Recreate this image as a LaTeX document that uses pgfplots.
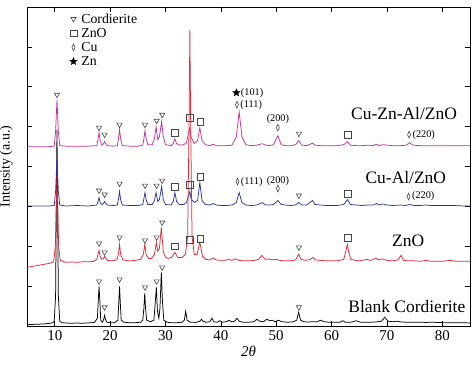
\documentclass[border=0pt]{standalone}
\usepackage{pgfplots}
\pgfplotsset{compat=1.18}
\usepackage{fontspec}
\setmainfont{Liberation Serif}
\definecolor{cmag}{RGB}{192,50,160}
\definecolor{cblue}{RGB}{44,56,150}
\definecolor{cred}{RGB}{226,40,56}
\definecolor{cmark}{RGB}{70,70,70}
\pgfdeclareplotmark{fstar}{%
 \pgfpathmoveto{\pgfpointpolar{90}{\pgfplotmarksize}}%
 \pgfpathlineto{\pgfpointpolar{126}{0.42\pgfplotmarksize}}%
 \pgfpathlineto{\pgfpointpolar{162}{\pgfplotmarksize}}%
 \pgfpathlineto{\pgfpointpolar{198}{0.42\pgfplotmarksize}}%
 \pgfpathlineto{\pgfpointpolar{234}{\pgfplotmarksize}}%
 \pgfpathlineto{\pgfpointpolar{270}{0.42\pgfplotmarksize}}%
 \pgfpathlineto{\pgfpointpolar{306}{\pgfplotmarksize}}%
 \pgfpathlineto{\pgfpointpolar{342}{0.42\pgfplotmarksize}}%
 \pgfpathlineto{\pgfpointpolar{18}{\pgfplotmarksize}}%
 \pgfpathlineto{\pgfpointpolar{54}{0.42\pgfplotmarksize}}%
 \pgfpathclose\pgfusepathqfillstroke}
\begin{document}
\begin{tikzpicture}
\begin{axis}[
  scale only axis, width=444pt, height=320pt,
  xmin=5, xmax=85, ymin=0, ymax=320,
  xtick={10,20,...,80}, ytick={40,80,...,280}, yticklabels={},
  major tick length=5pt,
  axis line style={line width=0.8pt},
  every tick/.style={black, line width=0.7pt},
  /pgf/number format/assume math mode=true,
  ticklabel style={font=\fontsize{15}{15}\selectfont},
  xticklabel style={yshift=-1pt},
  xlabel={\textit{2θ}},
  xlabel style={font=\fontsize{15}{15}\selectfont, at={(axis description cs:0.5,0)}, anchor=north, yshift=-20pt, inner sep=0pt},
  ylabel={Intensity (a.u.)},
  ylabel style={font=\fontsize{14}{14}\selectfont, at={(axis description cs:-0.032,0.5)}, anchor=south, inner sep=0pt},
  legend style={at={(axis description cs:0.09,0.985)}, anchor=north west, draw=none, fill=none,
    font=\fontsize{13.8}{14}\selectfont, row sep=0.5pt, inner sep=0pt, nodes={inner sep=1.5pt}},
  legend cell align=left,
  legend image code/.code={\path (-6pt,0pt) (6pt,0pt); \draw[#1] plot coordinates {(0pt,0pt)};},
  every axis plot/.append style={line width=0.75pt},
]
% Blank cordierite
\addplot[black, forget plot] coordinates {
(5,1.5) (6,1.8) (7,2) (8,2.3) (9,2.8) (9.6,3.5) (9.9,5) (10.15,30) (10.4,197) (10.65,30) (10.9,5) (11.3,3.5) (12,3.2) (13,3) (14,3.2) (15,3) (16,3.3) (16.7,3.5) (17.2,4) (17.7,8) (17.85,25) (18.0,40) (18.15,25) (18.3,6) (18.6,4) (18.85,7) (19.0,11) (19.15,7) (19.4,4) (20,3.5) (20.8,3.5) (21.4,6) (21.55,22) (21.7,40) (21.85,22) (22.0,6) (22.5,4) (23.5,3.5) (24.5,3.5) (25.5,4) (25.9,6) (26.1,18) (26.25,33) (26.4,18) (26.6,6) (27.3,4.5) (27.9,6) (28.1,20) (28.35,39) (28.55,15) (28.8,8) (29.0,18) (29.25,54) (29.45,25) (29.7,6) (30.3,4) (31,3.5) (32,3.5) (33,4) (33.4,6) (33.65,15) (33.9,6) (34.5,4) (35.5,3.8) (36.2,5) (36.5,7) (36.8,5) (37.3,4) (38,4.5) (38.4,8) (38.7,4.5) (39.3,4) (39.8,5.5) (40.2,4) (41,4.5) (41.5,6) (41.9,4.3) (42.5,5) (42.9,8) (43.3,5) (44,4) (45,4) (46,4.5) (46.5,7) (47,5) (47.7,4.5) (48.3,7) (48.8,5.5) (49.3,6) (49.8,4.5) (50.4,6) (51,4.5) (52,4) (53,4.3) (53.7,6) (54.05,14) (54.4,6) (55,4.5) (55.8,4.2) (56.5,4.5) (57.3,4.3) (58,6) (58.6,4.5) (59.5,4) (60.5,4) (61.5,4) (62,5.5) (62.5,4) (63.5,4) (64.5,5.5) (65.2,4) (66,4) (67,4) (68,4.3) (69,5) (69.6,9) (70.2,5) (71,4.5) (71.8,5) (72.5,4.3) (73.5,4) (75,4) (76,4) (77,3.8) (78,4) (79,3.8) (80,3.6) (81,3.6) (82,3.5) (83,3.5) (85,3.3)
};
% Cu-Al/ZnO
\addplot[cblue, forget plot] coordinates {
(5,120.5) (7,120.5) (9,120.5) (9.9,121) (10.15,135) (10.4,168) (10.65,135) (10.9,121.5) (12,120.5) (14,121) (16,120.5) (17.6,121.5) (17.8,125) (18.0,129) (18.2,124) (18.5,122) (18.8,123) (19.0,125) (19.2,123) (19.5,121.5) (20.5,121) (21.3,121.5) (21.5,127) (21.7,135) (21.9,127) (22.2,121.5) (23.5,121) (25,121) (25.9,122) (26.1,128) (26.3,134) (26.5,127) (26.8,122) (27.6,122) (28.0,126) (28.3,134) (28.6,125) (28.9,127) (29.3,140) (29.6,127) (30,122) (31,121.5) (31.4,125) (31.7,134) (32,125) (32.5,122) (33.3,122) (33.8,124) (34.2,132) (34.4,135) (34.6,128) (35.2,124) (35.8,126) (36.2,144) (36.6,126) (37.2,122) (38,121.5) (38.6,123) (39.2,121.5) (40,121) (41,121) (42,121.5) (42.8,124) (43.3,134) (43.8,124) (44.5,121.5) (45.5,121) (46.5,121.5) (47.5,124) (48.1,121.5) (48.8,121.5) (49.5,122) (50.3,126) (50.9,122) (51.7,121.5) (52.7,121) (53.5,121.5) (54.05,124) (54.6,121.5) (55.5,121.5) (56.55,126) (57,122) (58,121.5) (59,121) (60,121) (61,121) (62.2,122) (62.85,127) (63.4,122) (64.5,121.5) (65.5,121) (66.5,121.5) (67.5,121.5) (68.1,123) (68.6,121.5) (69.2,122.5) (70,121.5) (71,121) (72.5,121.5) (73.3,121) (74.1,122) (75,121) (76,121) (77,121.5) (78,121) (80,121) (82,121) (84,120.5) (85,120.5)
};
% Cu-Zn-Al/ZnO
\addplot[cmag, forget plot] coordinates {
(5,180) (7,180) (9,180) (9.9,180.5) (10.15,195) (10.4,227) (10.65,195) (10.9,181) (12,180.5) (14,180.5) (16,180.5) (17.6,181) (17.8,187) (18.0,194) (18.2,186) (18.5,181.5) (18.8,183) (19.0,185) (19.2,183) (19.5,181) (20.5,180.5) (21.3,181) (21.5,188) (21.7,197) (21.9,188) (22.2,181) (23.5,180.5) (25,180.5) (25.9,181.5) (26.1,188) (26.3,196) (26.5,188) (26.8,182) (27.6,182) (28.0,188) (28.3,200) (28.6,187) (28.9,190) (29.3,205) (29.6,190) (30,182) (31,181) (31.4,183) (31.7,188) (32,183) (32.5,181.5) (33.3,182) (33.8,184) (34.2,195) (34.4,199) (34.6,190) (35.2,183) (35.8,186) (36.2,199) (36.6,186) (37.2,182) (38,181) (38.6,182.5) (39.2,181) (40,181) (41,181) (42,181.5) (42.8,190) (43.3,215) (43.8,190) (44.5,182) (45.5,181) (46.5,181.5) (47.5,183) (48.1,181.5) (48.8,181) (49.5,182) (50.3,191) (50.9,182) (51.7,181) (52.7,181) (53.5,182) (54.05,186) (54.6,181.5) (55.5,181) (56.55,183.5) (57,181.5) (58,181) (59,181) (60,181) (61,181) (62.2,182) (62.85,185) (63.4,181.5) (64.5,181) (65.5,181) (66.5,181.5) (67.5,181) (68.1,182.5) (68.6,181) (69.2,182) (70,181.5) (71,181) (72.5,181) (73.5,181.5) (74.1,184) (74.7,181.5) (76,181) (78,181) (80,181) (82,181) (85,181)
};
% ZnO
\addplot[cred, forget plot] coordinates {
(5,59) (6,60) (7,61) (8,62) (9,63) (9.8,64.5) (10.1,80) (10.4,152) (10.7,80) (11,66) (12,64) (13,64.5) (14,64) (15,64.5) (16,64.5) (17,65) (17.6,67) (17.8,72) (18.0,76) (18.2,70) (18.5,67) (18.8,68) (19.0,70) (19.2,68) (19.5,66) (20.3,65.5) (21.2,66.5) (21.5,72) (21.7,82) (21.9,72) (22.3,66.5) (23.5,65.5) (24.5,66) (25.5,67) (26,72) (26.25,82) (26.5,72) (26.9,68) (27.5,68) (28,72) (28.35,84) (28.6,75) (28.9,78) (29.25,99) (29.6,75) (30,69) (30.5,68) (31.1,69) (31.7,74) (32.2,69) (33,69) (33.6,72) (34.0,90) (34.25,200) (34.4,297) (34.55,200) (34.8,90) (35.2,72) (35.7,72) (36.2,84) (36.7,70) (37.3,67) (38,66.5) (38.6,68.5) (39.1,66.5) (40,66) (40.8,66) (41.4,67) (42,66) (42.6,67.5) (43.3,66) (44,65.5) (45,65.5) (46,66) (46.8,67) (47.4,71) (48,67) (48.6,67.5) (49.3,66.5) (50,67) (50.6,66) (51.5,65.5) (52.5,65.5) (53.5,66.5) (54.05,72) (54.5,67) (55.3,66) (56.2,67) (56.6,69) (57.1,66.5) (58,66) (59,65.5) (60,65.5) (61,65.5) (62.2,67) (62.6,76) (62.85,82) (63.1,74) (63.5,67) (64.3,66) (65,65.5) (66.4,67) (67,66) (68,68) (68.5,66.5) (69.1,67.5) (70,66) (71,65.5) (72,66.5) (72.55,71) (73,66) (74,65.5) (75,65.5) (76,65) (77,66) (78,65) (79,65) (80,65) (81.4,66) (82.5,65) (84,65) (85,65)
};
% markers
\addplot[only marks, mark=triangle, mark size=3pt, mark options={rotate=180, draw=cmark, fill=white, line width=0.6pt}] coordinates {
(10.4,232) (18.0,199) (19.0,192) (21.7,202) (26.3,202) (28.4,206) (29.4,212) (54.1,193)
(18.0,136) (19.0,132) (21.7,143) (26.3,141) (28.4,141) (29.4,146) (54.1,131)
(18.0,83) (19.0,74) (21.7,89) (26.3,86) (28.4,89) (29.4,104) (54.1,79)
(18.0,45) (19.0,19) (21.7,47) (26.3,39) (28.4,45) (29.4,59) (54.1,19)
};
\addlegendentry{Cordierite}
\addplot[only marks, mark=square, mark size=3.4pt, mark options={draw=cmark, fill=white, line width=0.6pt}] coordinates {
(31.7,194) (34.4,209) (36.3,205) (62.9,192)
(31.7,140) (34.4,142) (36.3,150) (62.9,133)
(31.7,80) (34.4,87) (36.3,88) (62.9,89)
};
\addlegendentry{ZnO}
\addplot[only marks, mark=diamond, mark size=3.4pt, mark options={xscale=0.6, draw=cmark, fill=white, line width=0.6pt}] coordinates {
(42.9,222) (50.3,199) (74.0,192)
(43.0,145) (50.3,138) (73.9,130)
};
\addlegendentry{Cu}
\addplot[only marks, mark=fstar, mark size=4pt, mark options={fill=black, draw=black, line width=0.3pt}] coordinates {
(42.8,234)
};
\addlegendentry{Zn}
% annotation texts
\begin{scope}[every node/.style={font=\fontsize{10.3}{10}\selectfont, inner sep=0pt}]
\node[anchor=west] at (axis cs:43.6,234) {(101)};
\node[anchor=west] at (axis cs:43.5,222) {(111)};
\node at (axis cs:50.3,208) {(200)};
\node[anchor=west] at (axis cs:74.6,192) {(220)};
\node[anchor=west] at (axis cs:43.6,145) {(111)};
\node at (axis cs:50.3,146) {(200)};
\node[anchor=west] at (axis cs:74.5,130) {(220)};
\end{scope}
\begin{scope}[every node/.style={font=\fontsize{17.5}{17.5}\selectfont, inner sep=0pt, anchor=base west}]
\node at (axis cs:63.5,207) {Cu-Zn-Al/ZnO};
\node at (axis cs:66.1,143) {Cu-Al/ZnO};
\node at (axis cs:70.9,80) {ZnO};
\node at (axis cs:63.0,14) {Blank Cordierite};
\end{scope}
\end{axis}
\path ([xshift=-26pt,yshift=-39pt]current axis.south west) rectangle ([xshift=4pt,yshift=7pt]current axis.north east);
\end{tikzpicture}
\end{document}
